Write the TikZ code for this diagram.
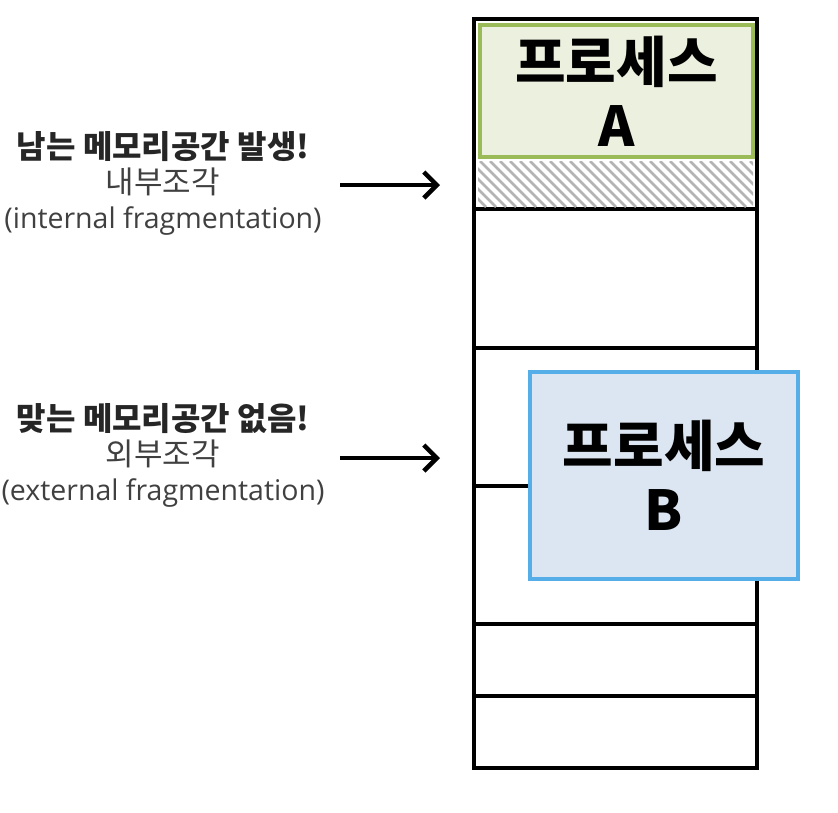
\documentclass[tikz,border=0pt]{standalone}
\usepackage{fontspec}
\setmainfont{Noto Sans CJK KR}
\newfontfamily\latinfont{Open Sans}
\usetikzlibrary{arrows.meta,positioning}
\definecolor{greenfill}{HTML}{EBF1DE}
\definecolor{greenline}{HTML}{9BBB59}
\definecolor{bluefill}{HTML}{DCE6F2}
\definecolor{blueline}{HTML}{55AEE8}
\definecolor{hatchgray}{HTML}{B4B4B4}
\definecolor{notegray}{HTML}{404040}
\newcommand{\headline}[1]{{\bfseries\color{black!85}\fontsize{32}{35}\selectfont #1}}
\newcommand{\engline}[1]{{\latinfont\fontsize{28.5}{35}\selectfont #1}}

\begin{document}
\begin{tikzpicture}
[x=1pt,y=-1pt,
memcol/.style={draw,line width=4.5pt,inner sep=0pt},
proc/.style={line width=4pt,align=center,inner sep=0pt,
font=\fontsize{55}{64}\selectfont\bfseries},
note/.style={align=center,text=notegray,font=\fontsize{31}{35}\selectfont},
pointer/.style={line width=4.5pt,-{Straight Barb[length=13pt,width=26pt]}}]
\useasboundingbox (0,0) rectangle (838,812);

% memory column
\node (mem) at (615.5,393.5) [memcol,minimum width=283,minimum height=749] {};
\foreach \y in {209,348,486,624,696}
  \draw[line width=4.5pt] (mem.west |- 0,\y) -- (mem.east |- 0,\y);

% hatched rest of A's partition
\coordinate (hatchNW) at (478,161);
\coordinate (hatchSE) at (753,207);
\begin{scope}
\clip (hatchNW) rectangle (hatchSE);
\foreach \k in {420,430,...,760}
  \draw[hatchgray,line width=2.5pt] (\k,161) -- (\k+46,207);
\end{scope}

% processes
\node (procA) at (616.5,91) [proc,draw=greenline,fill=greenfill,
minimum width=273,minimum height=132] {프로세스\\A};
\node (procB) at (664,475.5) [proc,draw=blueline,fill=bluefill,
minimum width=268,minimum height=207] {프로세스\\B};

% notes
\node (inner) at (163,183) [note] {\headline{남는 메모리공간 발생!}\\내부조각\\\engline{(internal fragmentation)}};
\node (outer) at (163,455) [note] {\headline{맞는 메모리공간 없음!}\\외부조각\\\engline{(external fragmentation)}};

\coordinate (in1) at (340,185);
\coordinate (in2) at (440,185);
\coordinate (out1) at (340,458);
\coordinate (out2) at (440,458);
\draw[pointer] (in1) -- (in2);
\draw[pointer] (out1) -- (out2);

\end{tikzpicture}
\end{document}
